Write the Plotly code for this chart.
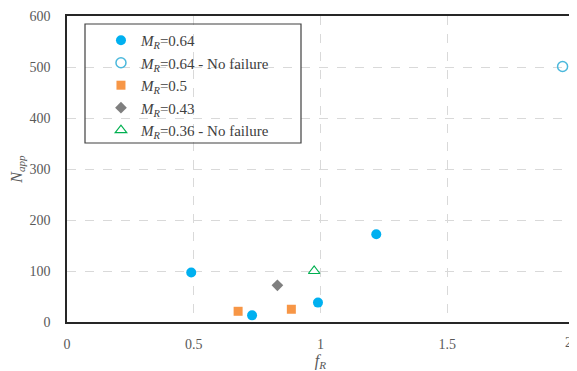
import plotly.graph_objects as go

# Data
s064_x = [0.49, 0.73, 0.99, 1.22]
s064_y = [97, 13, 38, 172]
s064nf_x = [1.955]
s064nf_y = [501]
s05_x = [0.675, 0.885]
s05_y = [21, 25]
s043_x = [0.83]
s043_y = [72]
s036nf_x = [0.975]
s036nf_y = [100]

x_ticks = [0, 0.5, 1, 1.5, 2]
x_ticklabels = ["0", "0.5", "1", "1.5", "2"]
y_ticks = [0, 100, 200, 300, 400, 500, 600]

names = ["<i>M<sub>R</sub></i>=0.64", "<i>M<sub>R</sub></i>=0.64 - No failure",
         "<i>M<sub>R</sub></i>=0.5", "<i>M<sub>R</sub></i>=0.43",
         "<i>M<sub>R</sub></i>=0.36 - No failure"]

font_family = "Liberation Serif, Times New Roman, DejaVu Serif, serif"
tick_font = dict(family=font_family, size=14, color="#595959")
fig = go.Figure()
fig.add_trace(go.Scatter(x=s064_x, y=s064_y, mode="markers", name=names[0], legendgroup="a",
                         marker=dict(symbol="circle", size=10, color="#00B0F0")))
fig.add_trace(go.Scatter(x=s064nf_x, y=s064nf_y, mode="markers", name=names[1], legendgroup="b",
                         marker=dict(symbol="circle-open", size=10, color="#4BB8DC", line=dict(width=1.5))))
fig.add_trace(go.Scatter(x=s05_x, y=s05_y, mode="markers", name=names[2], legendgroup="c",
                         marker=dict(symbol="square", size=9, color="#F79646")))
fig.add_trace(go.Scatter(x=s043_x, y=s043_y, mode="markers", name=names[3], legendgroup="d",
                         marker=dict(symbol="diamond", size=9, color="#7F7F7F")))
fig.add_trace(go.Scatter(x=s036nf_x, y=s036nf_y, mode="markers", name=names[4], legendgroup="e",
                         marker=dict(symbol="triangle-up-open", size=10, color="#00B050", line=dict(width=1.2))))

# page has an 8px body margin: figure spans page x 8..577, y 8..371
fig.update_layout(
    width=569, height=363,
    margin=dict(l=59, r=3, t=8, b=49),
    plot_bgcolor="white", paper_bgcolor="white",
    font=tick_font,
    showlegend=True,
    legend=dict(x=0.067, y=0.974, xanchor="left", yanchor="top",
                bgcolor="rgba(0,0,0,0)", borderwidth=0,
                font=dict(family=font_family, size=15, color="#404040"),
                traceorder="grouped", tracegroupgap=0, itemwidth=30),
    shapes=[dict(type="rect", xref="paper", yref="paper",
                 x0=(85 - 67) / 507, x1=(301 - 67) / 507,
                 y0=(322 - 143) / 306, y1=(322 - 24) / 306,
                 line=dict(color="#404040", width=1.2), fillcolor="rgba(0,0,0,0)", layer="above")],
    annotations=[dict(x=0.99, y=0, xref="paper", yref="paper", text=x_ticklabels[-1],
                      showarrow=False, xanchor="center", yanchor="middle", yshift=-20,
                      borderpad=0, font=tick_font)],
)
fig.update_xaxes(range=[0, 2], tickvals=x_ticks[:-1], ticktext=x_ticklabels[:-1],
                 automargin=False,
                 showgrid=True, gridcolor="#D9D9D9", griddash="dash", gridwidth=1,
                 showline=True, linecolor="#262626", linewidth=1.5, mirror=True, zeroline=False,
                 ticklabelstandoff=8,
                 title=dict(text="<i>f<sub>R</sub></i>", font=dict(family=font_family, size=16, color="#595959"), standoff=2))
fig.update_yaxes(range=[0, 600], tickvals=y_ticks,
                 automargin=False,
                 showgrid=True, gridcolor="#D9D9D9", griddash="dash", gridwidth=1,
                 showline=True, linecolor="#262626", linewidth=1.5, mirror=True, zeroline=False,
                 ticklabelstandoff=12,
                 title=dict(text="<i>N<sub>app</sub></i>", font=dict(family=font_family, size=16, color="#595959"), standoff=6))

fig.write_html("out.html")
